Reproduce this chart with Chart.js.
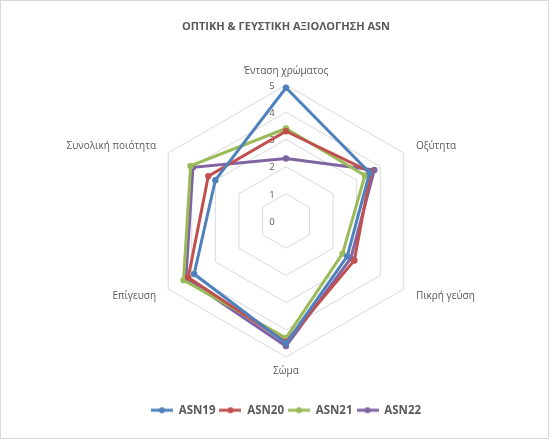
<!DOCTYPE html>
<html>
<head>
<meta charset="utf-8">
<script src="https://cdn.jsdelivr.net/npm/chart.js@4/dist/chart.umd.min.js"></script>
<style>
  html, body { margin: 0; padding: 0; background: #ffffff; }
  #wrap { width: 555px; height: 444px; }
</style>
</head>
<body>
<div id="wrap"><canvas id="c" width="555" height="444"></canvas></div>
<script>
// Sensory attributes (radar axes)
const categories = ['Ένταση χρώματος', 'Οξύτητα', 'Πικρή γεύση', 'Σώμα', 'Επίγευση', 'Συνολική ποιότητα'];

// Scores per sample
const asn19 = [4.9, 3.55, 2.6, 4.5, 3.9, 3.0];
const asn20 = [3.3, 3.6, 2.9, 4.45, 4.15, 3.3];
const asn21 = [3.4, 3.35, 2.4, 4.3, 4.35, 4.05];
const asn22 = [2.3, 3.75, 2.75, 4.6, 4.25, 3.95];

const seriesNames = ['ASN19', 'ASN20', 'ASN21', 'ASN22'];
const seriesColors = ['#4F81BD', '#C0504D', '#9BBB59', '#8064A2'];

// Value axis tick labels
const tickValues = [0, 1, 2, 3, 4, 5];

const FONT = "'Open Sans', 'DejaVu Sans', sans-serif";
const TEXT = '#595959';

// Legend swatch: short line with a dot in the middle
function legendSwatch(color) {
  const cv = document.createElement('canvas');
  cv.width = 22; cv.height = 8;
  const g = cv.getContext('2d');
  g.strokeStyle = color; g.lineWidth = 3;
  g.beginPath(); g.moveTo(0, 4); g.lineTo(22, 4); g.stroke();
  g.fillStyle = color;
  g.beginPath(); g.arc(11, 4, 3, 0, Math.PI * 2); g.fill();
  return cv;
}

// Light frame around the chart
const framePlugin = {
  id: 'frame',
  beforeDraw(chart) {
    const ctx = chart.ctx;
    ctx.save();
    ctx.fillStyle = '#ffffff';
    ctx.fillRect(0, 0, chart.width, chart.height);
    ctx.strokeStyle = '#D9D9D9';
    ctx.lineWidth = 1;
    ctx.strokeRect(0.5, 0.5, 548, 438);
    ctx.restore();
  }
};

// Value labels just left of the vertical axis, and category labels
// centred vertically on their spoke, a little outside the outer ring
const axisTextPlugin = {
  id: 'axisText',
  beforeDatasetsDraw(chart) {
    const scale = chart.scales.r;
    const ctx = chart.ctx;
    ctx.save();
    ctx.fillStyle = TEXT;
    ctx.textBaseline = 'middle';

    ctx.font = '9.5px ' + FONT;
    ctx.textAlign = 'center';
    tickValues.forEach(v => {
      const p = scale.getPointPositionForValue(0, v);
      ctx.fillText(String(v), p.x - 14, p.y + 1);
    });

    ctx.font = '10px ' + FONT;
    categories.forEach((label, i) => {
      const p = scale.getPointPosition(i, scale.drawingArea + 14);
      const dx = p.x - scale.xCenter;
      ctx.textAlign = Math.abs(dx) < 1 ? 'center' : (dx > 0 ? 'left' : 'right');
      ctx.fillText(label, p.x, p.y);
    });
    ctx.restore();
  }
};

const datasets = [asn19, asn20, asn21, asn22].map((vals, i) => ({
  label: seriesNames[i],
  data: vals,
  borderColor: seriesColors[i],
  backgroundColor: seriesColors[i],
  pointBackgroundColor: seriesColors[i],
  pointBorderColor: seriesColors[i],
  borderWidth: 3,
  pointRadius: 3.2,
  pointBorderWidth: 0,
  fill: false,
  tension: 0
}));

new Chart(document.getElementById('c'), {
  type: 'radar',
  data: { labels: categories, datasets },
  plugins: [framePlugin, axisTextPlugin],
  options: {
    responsive: false,
    animation: false,
    layout: { padding: { left: 17, right: 0, top: 0, bottom: 18 } },
    plugins: {
      title: {
        display: true,
        text: 'ΟΠΤΙΚΗ & ΓΕΥΣΤΙΚΗ ΑΞΙΟΛΟΓΗΣΗ ASN',
        color: TEXT,
        font: { family: FONT, size: 11, weight: 'bold' },
        padding: { top: 20, bottom: 52 }
      },
      legend: {
        position: 'bottom',
        title: {
          display: true,
          text: ' ',
          font: { family: FONT, size: 10 },
          padding: { top: 0, bottom: 30 }
        },
        labels: {
          color: TEXT,
          font: { family: FONT, size: 11.5, weight: 'bold' },
          usePointStyle: true,
          pointStyleWidth: 22,
          padding: 4,
          generateLabels(chart) {
            const items = Chart.defaults.plugins.legend.labels.generateLabels(chart);
            items.forEach((it, i) => { it.pointStyle = legendSwatch(seriesColors[i]); });
            return items;
          }
        }
      },
      tooltip: { enabled: false }
    },
    scales: {
      r: {
        min: 0,
        max: 5,
        ticks: { stepSize: 1, display: false },
        grid: { color: '#D9D9D9', lineWidth: 1 },
        angleLines: { display: false },
        pointLabels: { display: false }
      }
    }
  }
});
</script>
</body>
</html>
